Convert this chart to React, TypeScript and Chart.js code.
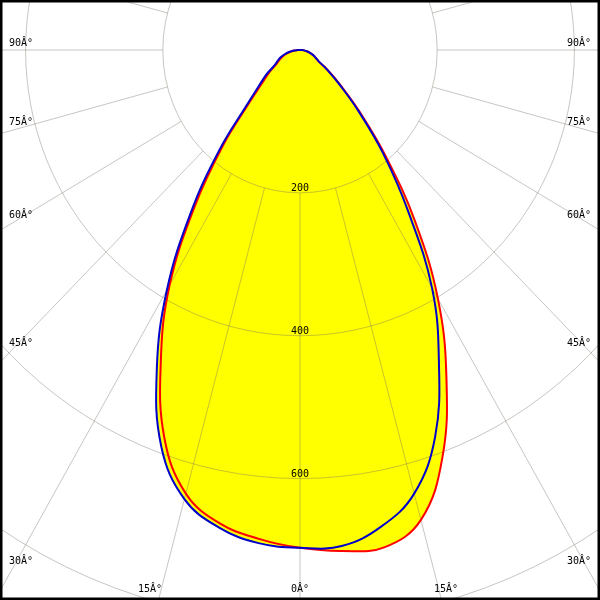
import React, { useEffect, useRef } from "react";
import { Chart, registerables } from "chart.js";

Chart.register(...registerables);

// Angles (degrees from nadir; negative = left half)
const angles = [
  -90, -85, -80, -75, -70, -65, -60, -55, -50, -45, -40, -35, -30, -25, -20, -15, -10, -5,
  0, 5, 10, 15, 20, 25, 30, 35, 40, 45, 50, 55, 60, 65, 70, 75, 80, 85, 90,
];

// Red plane (C0-C180) intensities, cd
const redValues = [
  3, 8, 14, 21, 27, 33, 40, 55, 72, 105, 175, 268, 380, 480, 578, 643, 673, 687,
  697, 704, 707, 681, 607, 505, 402, 292, 195, 124, 78, 50, 31, 25, 20, 15, 10, 6, 3,
];

// Blue plane (C90-C270) intensities, cd
const blueValues = [
  3, 9, 16, 23, 30, 36, 43, 60, 78, 111, 183, 277, 388, 494, 591, 651, 679, 693,
  697, 697, 678, 643, 576, 479, 385, 274, 188, 120, 75, 49, 31, 25, 20, 15, 10, 6, 3,
];

// Grid
const ringValues = [200, 400, 600, 800, 1000];
const ringLabels = ["200", "400", "600"];
const spokeStep = 15;
const spokeStart = 200;
const sideAngleLabels = ["90\u00C2\u00B0", "75\u00C2\u00B0", "60\u00C2\u00B0", "45\u00C2\u00B0", "30\u00C2\u00B0"];
const bottomAngleLabels = ["15\u00C2\u00B0", "0\u00C2\u00B0", "15\u00C2\u00B0"];

function toXY(values: number[]) {
  const pts = angles.map((a, i) => {
    const t = (a * Math.PI) / 180;
    return { x: values[i] * Math.sin(t), y: -values[i] * Math.cos(t) };
  });
  pts.push({ ...pts[0] });
  return pts;
}

const polarPlugin = {
  id: "polarGrid",
  beforeDatasetsDraw(chart: any) {
    const { ctx } = chart;
    const xs = chart.scales.x;
    const ys = chart.scales.y;
    const cx = xs.getPixelForValue(0);
    const cy = ys.getPixelForValue(0);
    ctx.save();
    // union fill of both curves
    ctx.fillStyle = "#ffff00";
    chart.data.datasets.forEach((_ds: any, i: number) => {
      const meta = chart.getDatasetMeta(i);
      const line = meta.dataset;
      ctx.beginPath();
      let ok = false;
      try {
        if (line && line.updateControlPoints) line.updateControlPoints(chart.chartArea, "x");
        if (line && line.path) {
          line.path(ctx);
          ok = true;
        }
      } catch (e) {
        ok = false;
      }
      if (!ok) {
        ctx.beginPath();
        meta.data.forEach((p: any, j: number) => (j ? ctx.lineTo(p.x, p.y) : ctx.moveTo(p.x, p.y)));
      }
      ctx.closePath();
      ctx.fill();
    });
    // grid
    ctx.strokeStyle = "rgba(120,110,100,0.4)";
    ctx.lineWidth = 1;
    ringValues.forEach((r) => {
      const rx = xs.getPixelForValue(r) - cx;
      const ry = ys.getPixelForValue(-r) - cy;
      ctx.beginPath();
      ctx.ellipse(cx, cy, rx, ry, 0, 0, Math.PI * 2);
      ctx.stroke();
    });
    for (let a = 0; a < 360; a += spokeStep) {
      const t = (a * Math.PI) / 180;
      const rOut = 2000;
      ctx.beginPath();
      ctx.moveTo(xs.getPixelForValue(spokeStart * Math.sin(t)), ys.getPixelForValue(-spokeStart * Math.cos(t)));
      ctx.lineTo(xs.getPixelForValue(rOut * Math.sin(t)), ys.getPixelForValue(-rOut * Math.cos(t)));
      ctx.stroke();
    }
    ctx.restore();
  },
  afterDraw(chart: any) {
    const { ctx, width, height } = chart;
    const xs = chart.scales.x;
    const ys = chart.scales.y;
    const cx = xs.getPixelForValue(0);
    ctx.save();
    ctx.fillStyle = "#000";
    ctx.font = "10px 'DejaVu Sans Mono', monospace";
    ctx.textBaseline = "alphabetic";
    // ring labels
    ctx.textAlign = "center";
    ringLabels.forEach((lab) => {
      const v = Number(lab);
      ctx.fillText(lab, cx, ys.getPixelForValue(-v) - 2);
    });
    // side angle labels
    const sideY = [46, 125, 218, 346, 564];
    sideAngleLabels.forEach((lab, i) => {
      ctx.textAlign = "left";
      ctx.fillText(lab, 9, sideY[i]);
      ctx.textAlign = "right";
      ctx.fillText(lab, width - 9, sideY[i]);
    });
    // bottom labels
    const bottomX = [150, cx, 446];
    ctx.textAlign = "center";
    bottomAngleLabels.forEach((lab, i) => {
      ctx.fillText(lab, bottomX[i], 592);
    });
    // frame
    ctx.strokeStyle = "#000";
    ctx.lineWidth = 2.5;
    ctx.strokeRect(1.25, 1.25, width - 2.5, height - 2.5);
    ctx.restore();
  },
};

export default function App() {
  const ref = useRef<HTMLCanvasElement | null>(null);
  useEffect(() => {
    document.body.style.margin = "0";
    const canvas = ref.current;
    if (!canvas) return;
    const chart = new Chart(canvas, {
      type: "scatter",
      data: {
        datasets: [
          {
            label: "C90-C270",
            data: toXY(blueValues),
            showLine: true,
            borderColor: "#0000cc",
            borderWidth: 2,
            pointRadius: 0,
            tension: 0.4,
            fill: false,
          },
          {
            label: "C0-C180",
            data: toXY(redValues),
            showLine: true,
            borderColor: "#ff0000",
            borderWidth: 2,
            pointRadius: 0,
            tension: 0.4,
            fill: false,
          },
        ],
      },
      options: {
        responsive: false,
        animation: false,
        layout: { padding: 0 },
        plugins: { legend: { display: false }, tooltip: { enabled: false } },
        scales: {
          x: { type: "linear", display: false, min: -437.3, max: 437.3 },
          y: { type: "linear", display: false, min: -770, max: 70 },
        },
      },
      plugins: [polarPlugin],
    });
    return () => chart.destroy();
  }, []);
  return <canvas ref={ref} width={600} height={600} style={{ display: "block", background: "#fff" }} />;
}
